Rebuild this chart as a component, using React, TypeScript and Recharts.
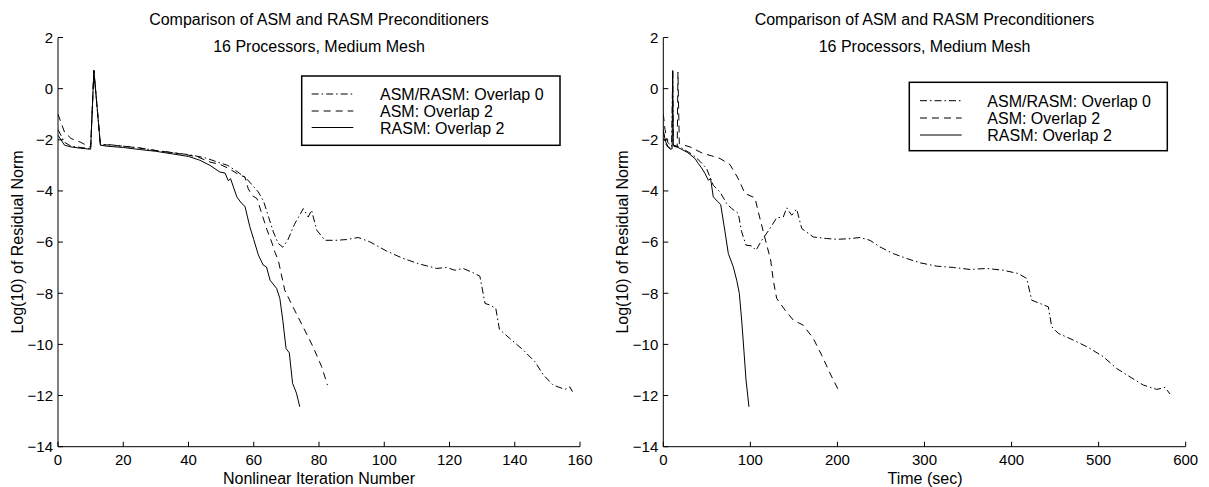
import React from 'react';
import { LineChart, Line, XAxis, YAxis } from 'recharts';

const FONT = '"Liberation Sans", Arial, Helvetica, sans-serif';

// ---------- Left panel: residual vs nonlinear iteration ----------
const leftOverlap0X = [0, 2, 4, 7, 10, 11, 13, 15, 20, 25, 30, 35, 40, 45, 49.6, 52, 55, 57.8, 61.4, 63, 64.5, 66, 67.5, 68.9, 70.5, 72.5, 75.2, 76.7, 77.7, 79.3, 81.8, 85.2, 88.5, 92, 95.6, 100.7, 105.8, 110.9, 116.1, 119.1, 121.6, 124.2, 127.3, 129.3, 130.9, 132.4, 134.2, 135.3, 138.5, 142.6, 146.2, 148.8, 151.8, 155.4, 156.9, 157.7];
const leftOverlap0Y = [-1.6, -2.1, -2.25, -2.3, -2.35, 0.71, -2.2, -2.18, -2.25, -2.32, -2.42, -2.5, -2.58, -2.7, -2.9, -3.0, -3.25, -3.52, -4.04, -4.4, -5.0, -5.6, -6.05, -6.2, -5.9, -5.3, -4.69, -5.02, -4.75, -5.53, -5.93, -5.93, -5.9, -5.82, -5.99, -6.35, -6.64, -6.86, -7.03, -6.99, -7.1, -7.03, -7.2, -7.33, -8.4, -8.46, -8.6, -9.41, -9.77, -10.22, -10.68, -11.2, -11.59, -11.76, -11.66, -11.85];

const leftAsmX = [0, 2, 4, 7, 10, 11, 13, 15, 20, 25, 30, 35, 40, 43, 46.6, 49.6, 52, 55.8, 57.3, 58.3, 59.4, 61, 62.5, 64, 65.5, 66.5, 67.5, 69.5, 72, 75.1, 78.2, 80.8, 82.6];
const leftAsmY = [-1.0, -1.7, -1.95, -2.1, -2.3, 0.71, -2.2, -2.2, -2.25, -2.32, -2.42, -2.5, -2.6, -2.68, -2.87, -2.96, -3.1, -3.39, -3.45, -3.91, -4.17, -4.3, -4.9, -5.5, -6.0, -6.4, -6.7, -7.88, -8.53, -9.31, -10.1, -10.87, -11.59];

const leftRasmX = [0, 2, 4, 7, 10, 11, 13, 15, 20, 25, 30, 35, 40, 43.5, 46.6, 49.6, 51.2, 52.2, 52.9, 54.8, 56.3, 57.3, 58.8, 60, 61.4, 62.9, 63.9, 65, 67, 68, 68.9, 69.9, 70.9, 71.9, 73.1, 74.1];
const leftRasmY = [-1.82, -2.21, -2.28, -2.33, -2.37, 0.71, -2.21, -2.25, -2.3, -2.38, -2.45, -2.55, -2.65, -2.8, -3.0, -3.26, -3.3, -3.6, -3.52, -4.23, -4.49, -4.6, -5.4, -5.9, -6.5, -6.9, -6.97, -7.49, -7.81, -8.2, -9.05, -10.16, -10.33, -11.52, -11.91, -12.44];

// ---------- Right panel: residual vs time (sec) ----------
const rightOverlap0X = [0, 2, 5, 9.5, 10.8, 11.5, 19.2, 34.5, 42.1, 49.8, 57.4, 65.1, 72.8, 78.6, 86.1, 90, 95, 101.5, 106.5, 113, 122.5, 130.2, 137.8, 141.7, 147.5, 153.2, 159, 172.3, 187.7, 199.2, 213, 225.9, 237.4, 248.9, 264.2, 279.5, 294.8, 314, 333, 352.3, 371.4, 390.5, 407.7, 417.4, 423.1, 432.6, 442.2, 446.1, 453.7, 470.9, 488.1, 505.3, 520.7, 536, 551.3, 566.7, 576.2, 582];
const rightOverlap0Y = [-1.6, -2.1, -2.28, -2.35, 0.71, -2.21, -2.28, -2.6, -2.84, -3.13, -3.78, -4.04, -4.49, -4.69, -4.88, -5.6, -6.12, -6.15, -6.32, -5.93, -5.47, -5.05, -5.02, -4.66, -4.95, -4.71, -5.47, -5.8, -5.86, -5.89, -5.87, -5.82, -5.93, -6.19, -6.45, -6.64, -6.81, -6.94, -6.99, -7.07, -7.03, -7.1, -7.23, -7.42, -8.27, -8.4, -8.53, -9.31, -9.57, -9.83, -10.12, -10.48, -10.94, -11.27, -11.59, -11.76, -11.68, -11.94];

const rightAsmX = [0, 2, 5, 10, 16, 16.8, 18.4, 30.7, 45.9, 55, 65.1, 76.6, 86.1, 93.8, 105.3, 109.1, 114.9, 123.3, 126.3, 130.2, 139.8, 149.3, 160.8, 172.3, 181.9, 191.5, 202.1];
const rightAsmY = [-1.0, -1.6, -2.1, -2.25, -2.28, 0.65, -2.15, -2.28, -2.54, -2.62, -2.73, -2.97, -3.52, -4.1, -4.27, -4.82, -5.6, -6.7, -7.49, -8.2, -8.66, -9.05, -9.25, -9.77, -10.42, -11.13, -11.85];

const rightRasmX = [0, 3, 5.7, 8, 10.1, 10.8, 11.5, 19.2, 28, 36.4, 40.2, 44, 47.9, 51.7, 54.3, 57.4, 62, 65.9, 70.9, 74.7, 80.4, 84.3, 87.3, 90, 92.7, 95, 98.4];
const rightRasmY = [-1.69, -2.1, -2.28, -2.37, -2.35, 0.71, -2.21, -2.34, -2.5, -2.73, -2.93, -3.1, -3.32, -3.58, -3.52, -4.23, -4.4, -4.53, -5.6, -6.45, -6.97, -7.49, -8.0, -9.05, -10.29, -11.39, -12.44];

// ---------- ticks & labels ----------
const yTicks = [-14, -12, -10, -8, -6, -4, -2, 0, 2];
const leftXTicks = [0, 20, 40, 60, 80, 100, 120, 140, 160];
const rightXTicks = [0, 100, 200, 300, 400, 500, 600];
const seriesNames = ['ASM/RASM: Overlap 0', 'ASM: Overlap 2', 'RASM: Overlap 2'];
const titleLine1 = 'Comparison of ASM and RASM Preconditioners';
const titleLine2 = '16 Processors, Medium Mesh';
const yLabel = 'Log(10) of Residual Norm';
const leftXLabel = 'Nonlinear Iteration Number';
const rightXLabel = 'Time (sec)';

const DASH = '7 5';
const DASHDOT = '7 3 1.5 3';
const dashes = [DASHDOT, DASH, undefined];

const zip = (xs: number[], ys: number[]) => xs.map((x, i) => ({ x, y: ys[i] }));
const fmt = (v: number) => String(v).replace('-', '\u2212');

type PanelProps = {
  left: number;
  width: number;
  mLeft: number;
  mRight: number;
  xMax: number;
  xTicks: number[];
  series: { x: number; y: number }[][];
};

function Panel({ left, width, mLeft, mRight, xMax, xTicks, series }: PanelProps) {
  const tickStyle = { fill: '#000', fontSize: 15, fontFamily: FONT };
  return (
    <div style={{ position: 'absolute', left, top: 0 }}>
      <LineChart width={width} height={487} margin={{ top: 37.5, right: mRight, bottom: 10.3, left: mLeft }}>
        <XAxis
          type="number"
          dataKey="x"
          domain={[0, xMax]}
          ticks={xTicks}
          interval={0}
          allowDataOverflow
          height={30}
          tickSize={-5}
          tickMargin={13}
          axisLine={{ stroke: '#000', strokeWidth: 1 }}
          tickLine={{ stroke: '#000' }}
          tick={tickStyle}
        />
        <YAxis
          type="number"
          dataKey="y"
          domain={[-14, 2]}
          ticks={yTicks}
          interval={0}
          allowDataOverflow
          width={40}
          tickSize={-5}
          tickMargin={10}
          tickFormatter={fmt}
          axisLine={{ stroke: '#000', strokeWidth: 1 }}
          tickLine={{ stroke: '#000' }}
          tick={tickStyle}
        />
        {series.map((d, i) => (
          <Line
            key={i}
            data={d}
            dataKey="y"
            name={seriesNames[i]}
            type="linear"
            stroke="#000"
            strokeWidth={1}
            strokeDasharray={dashes[i]}
            dot={false}
            activeDot={false}
            isAnimationActive={false}
          />
        ))}
      </LineChart>
    </div>
  );
}

function LegendBox({ x, y, w, h, sx1, sx2, tx, rows }: { x: number; y: number; w: number; h: number; sx1: number; sx2: number; tx: number; rows: number[] }) {
  return (
    <g>
      <rect x={x} y={y} width={w} height={h} fill="#fff" stroke="#000" strokeWidth={1.5} />
      {seriesNames.map((n, i) => (
        <g key={n}>
          <line x1={sx1} x2={sx2} y1={rows[i] - 6} y2={rows[i] - 6} stroke="#000" strokeWidth={1} strokeDasharray={dashes[i]} />
          <text x={tx} y={rows[i]} fontSize={16} fontFamily={FONT} fill="#000">{n}</text>
        </g>
      ))}
    </g>
  );
}

export default function App() {
  const leftSeries = [zip(leftOverlap0X, leftOverlap0Y), zip(leftAsmX, leftAsmY), zip(leftRasmX, leftRasmY)];
  const rightSeries = [zip(rightOverlap0X, rightOverlap0Y), zip(rightAsmX, rightAsmY), zip(rightRasmX, rightRasmY)];
  const txt = { fontSize: 16, fontFamily: FONT, fill: '#000' } as const;
  return (
    <div style={{ position: 'absolute', left: 0, top: 0, width: 1209, height: 487, background: '#fff', overflow: 'hidden' }}>
      <Panel left={0} width={600} mLeft={18} mRight={20} xMax={160} xTicks={leftXTicks} series={leftSeries} />
      <Panel left={600} width={609} mLeft={23.3} mRight={23.3} xMax={600} xTicks={rightXTicks} series={rightSeries} />
      <svg width={1209} height={487} style={{ position: 'absolute', left: 0, top: 0, pointerEvents: 'none' }}>
        <text x={319} y={25} textAnchor="middle" {...txt}>{titleLine1}</text>
        <text x={319} y={51.5} textAnchor="middle" {...txt}>{titleLine2}</text>
        <text x={924.5} y={25} textAnchor="middle" {...txt}>{titleLine1}</text>
        <text x={924.5} y={51.5} textAnchor="middle" {...txt}>{titleLine2}</text>
        <text x={319} y={484} textAnchor="middle" {...txt}>{leftXLabel}</text>
        <text x={925} y={484} textAnchor="middle" {...txt}>{rightXLabel}</text>
        <text transform="translate(23,242) rotate(-90)" textAnchor="middle" {...txt}>{yLabel}</text>
        <text transform="translate(628,242) rotate(-90)" textAnchor="middle" {...txt}>{yLabel}</text>
        <LegendBox x={301.7} y={76} w={258.3} h={69.3} sx1={311.7} sx2={353.3} tx={380} rows={[100, 117, 133.5]} />
        <LegendBox x={909.3} y={82.3} w={258} h={68.4} sx1={920} sx2={961.7} tx={987.3} rows={[106.7, 124, 141]} />
      </svg>
    </div>
  );
}
